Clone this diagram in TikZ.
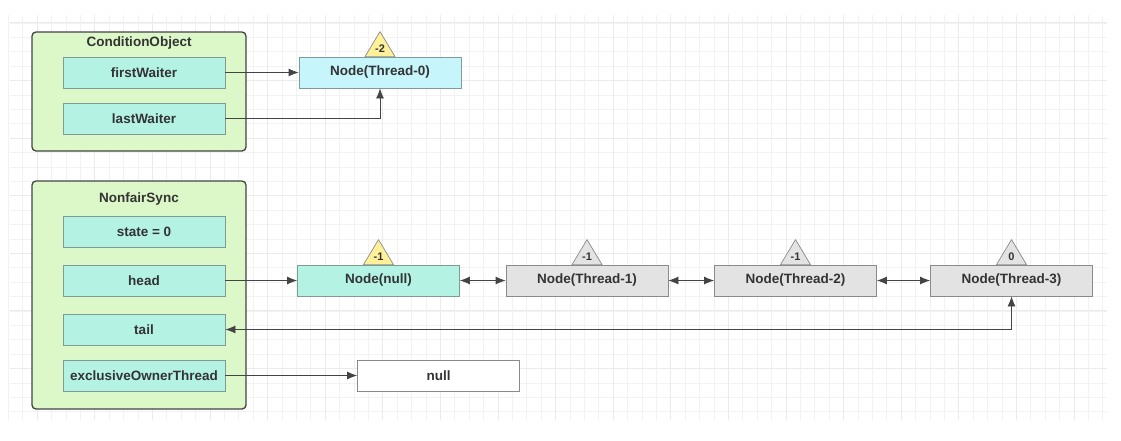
\documentclass[tikz,border=0pt]{standalone}
\usepackage{fontspec}
\setmainfont{Liberation Sans}
\usetikzlibrary{arrows.meta}
\definecolor{contfill}{HTML}{DCF7C8}
\definecolor{contdraw}{HTML}{444444}
\definecolor{fieldfill}{HTML}{B4F2E4}
\definecolor{fielddraw}{HTML}{7E9C94}
\definecolor{cyanfill}{HTML}{C6F5FC}
\definecolor{grayfill}{HTML}{E3E3E3}
\definecolor{graydraw}{HTML}{8A8A8A}
\definecolor{yelfill}{HTML}{FFF19A}
\definecolor{txt}{HTML}{333333}
\definecolor{linec}{HTML}{444444}
\tikzset{
  gridminor/.style={draw=black!5, line width=0.6pt},
  gridmajor/.style={draw=black!8, line width=0.8pt},
  cont/.style={draw=contdraw, line width=1.3pt, fill=contfill, rounded corners=4pt, minimum width=214pt, inner sep=0pt},
  ttl/.style={font=\fontsize{13.5}{15}\selectfont\bfseries, text=txt},
  boxbase/.style={minimum width=162pt, minimum height=31pt, inner sep=0pt, line width=0.8pt, font=\fontsize{13.5}{15}\selectfont\bfseries, text=txt},
  field/.style={boxbase, draw=fielddraw, fill=fieldfill},
  cyanbox/.style={boxbase, draw=fielddraw, fill=cyanfill},
  graybox/.style={boxbase, draw=graydraw, fill=grayfill},
  whitebox/.style={boxbase, draw=graydraw, fill=white},
  triY/.style={draw=graydraw, fill=yelfill, line width=0.7pt, line join=round},
  triG/.style={draw=graydraw, fill=grayfill, line width=0.7pt, line join=round},
  trilab/.style={font=\fontsize{11}{12}\selectfont\bfseries, text=txt, inner sep=0pt},
  arr/.style={draw=linec, line width=0.8pt, -{Latex[length=10pt,width=8pt]}},
  darr/.style={draw=linec, line width=0.8pt, {Latex[length=10pt,width=8pt]}-{Latex[length=10pt,width=8pt]}}
}
\begin{document}
\begin{tikzpicture}[x=1pt,y=-1pt]
\useasboundingbox (0,0) rectangle (1121,440);
\fill[white] (0,0) rectangle (1121,440);
% background grid
\foreach \i in {0,...,76} {
  \pgfmathsetmacro\xx{8.3+14.4*\i}
  \draw[gridminor] (\xx,15) -- (\xx,420);
}
\foreach \i in {0,...,27} {
  \pgfmathsetmacro\yy{22.8+14.4*\i}
  \draw[gridminor] (10,\yy) -- (1107,\yy);
}
\foreach \i in {0,...,18} {
  \pgfmathsetmacro\xx{37.1+57.6*\i}
  \draw[gridmajor] (\xx,15) -- (\xx,420);
}
\foreach \i in {0,...,6} {
  \pgfmathsetmacro\yy{22.8+57.6*\i}
  \draw[gridmajor] (10,\yy) -- (1107,\yy);
}

% ConditionObject
\node[cont, minimum height=119pt] (co) at (139,91.5) {};
\node[ttl] (cot) at (139,43) {ConditionObject};
\node[field] (fw) at (144,72.5) {firstWaiter};
\node[field] (lw) at (144,118.5) {lastWaiter};
\node[cyanbox] (t0) at (380,72.5) {Node(Thread-0)};
\draw[triY] ([xshift=-15pt]t0.north) -- ([xshift=15pt]t0.north) -- ([yshift=25pt]t0.north) -- cycle;
\node[trilab] (t0w) at ([yshift=8pt]t0.north) {-2};
\draw[arr] (fw) -- (t0);
\draw[arr] (lw.east) -| (t0.south);

% NonfairSync
\node[cont, minimum height=228pt] (ns) at (139,295) {};
\node[ttl] (nst) at (139,199) {NonfairSync};
\node[field] (st) at (144,231.5) {state = 0};
\node[field] (hd) at (144,280.5) {head};
\node[field] (tl) at (144,329.5) {tail};
\node[field] (eo) at (144,375.5) {exclusiveOwnerThread};

\node[field] (n0) at (378.5,280.5) {Node(null)};
\node[graybox] (n1) at (587,280.5) {Node(Thread-1)};
\node[graybox] (n2) at (795.5,280.5) {Node(Thread-2)};
\node[graybox] (n3) at (1011.5,280.5) {Node(Thread-3)};
\node[whitebox] (nl) at (438.5,375.5) {null};

\draw[triY] ([xshift=-15pt]n0.north) -- ([xshift=15pt]n0.north) -- ([yshift=25pt]n0.north) -- cycle;
\node[trilab] (n0w) at ([yshift=8pt]n0.north) {-1};
\draw[triG] ([xshift=-15pt]n1.north) -- ([xshift=15pt]n1.north) -- ([yshift=25pt]n1.north) -- cycle;
\node[trilab] (n1w) at ([yshift=8pt]n1.north) {-1};
\draw[triG] ([xshift=-15pt]n2.north) -- ([xshift=15pt]n2.north) -- ([yshift=25pt]n2.north) -- cycle;
\node[trilab] (n2w) at ([yshift=8pt]n2.north) {-1};
\draw[triG] ([xshift=-15pt]n3.north) -- ([xshift=15pt]n3.north) -- ([yshift=25pt]n3.north) -- cycle;
\node[trilab] (n3w) at ([yshift=8pt]n3.north) {0};

\draw[arr] (hd) -- (n0);
\draw[darr] (n0) -- (n1);
\draw[darr] (n1) -- (n2);
\draw[darr] (n2) -- (n3);
\draw[darr] (tl.east) -| (n3.south);
\draw[arr] (eo) -- (nl);
\end{tikzpicture}
\end{document}
